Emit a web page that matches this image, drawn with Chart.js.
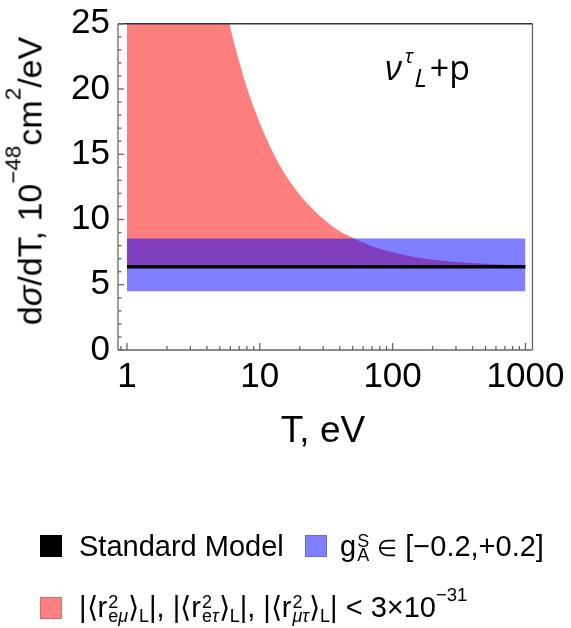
<!DOCTYPE html>
<html>
<head>
<meta charset="utf-8">
<script src="https://cdn.jsdelivr.net/npm/chart.js@4.4.1/dist/chart.umd.min.js"></script>
<style>
  html, body { margin:0; padding:0; background:#fff; }
  #quadro { position:relative; width:571px; height:628px; overflow:hidden;
            font-family:"Liberation Sans", Arial, sans-serif; color:#000; }
  #Grafico { position:absolute; left:0; top:0; }
  .rotulo { position:absolute; white-space:nowrap; }
  #tituloY { left:32px; top:181px; font-size:34px; line-height:40px;
             transform:translate(-50%,-50%) rotate(-90deg); }
  #tituloY .sup { position:relative; font-size:0.66em; top:-21px; }
  #tituloX { left:323px; top:410px; font-size:37px; line-height:40px; transform:translateX(-50%); }
  #reacao { left:385px; top:47px; font-family:"Open Sans", sans-serif; font-size:34px; line-height:40px; }
  #reacao .tau { font-size:20px; font-style:italic; position:relative; top:-17px; margin-left:3px; }
  #reacao .eleL { font-size:26px; font-style:italic; position:relative; top:7px; margin-left:1px; margin-right:3px; }
  .item { position:absolute; font-size:29px; line-height:30px; white-space:nowrap; height:30px; }
  .item .quad { position:absolute; left:0; width:22px; height:22px; box-sizing:border-box; }
  .item .txt { position:absolute; top:0; }
  .ss { position:relative; display:inline-block; font-size:0.62em; margin-left:1px; }
  .ss .a { position:absolute; left:0; top:-9px; }
  .ss .b { position:relative; top:5px; }
  .sub { position:relative; font-size:0.62em; top:5px; }
  .exp { position:relative; font-size:0.64em; top:-16px; }
  .pert { font-size:0.8em; }
</style>
</head>
<body>
<div id="quadro">
  <canvas id="Grafico" width="571" height="628"></canvas>

  <div class="rotulo" id="tituloY">d<i>σ</i>/dT, 10<span class="sup">−48</span>cm<span class="sup">2</span>/eV</div>
  <div class="rotulo" id="tituloX">T, eV</div>
  <div class="rotulo" id="reacao"><i>ν</i><span class="tau">τ</span><span class="eleL">L</span>+p</div>

  <div class="item" style="left:40px;top:531px">
    <span class="quad" style="top:4px;background:#000"></span>
    <span class="txt" style="left:39px">Standard Model</span>
  </div>
  <div class="item" style="left:305px;top:531px">
    <span class="quad" style="top:4px;background:#8080ff;border:1px solid #6a6ae0"></span>
    <span class="txt" style="left:35px">g<span class="ss"><span class="a">S</span><span class="b">A</span></span> <span class="pert">∈</span> [−0.2,+0.2]</span>
  </div>
  <div class="item" style="left:40px;top:592px">
    <span class="quad" style="top:5px;background:#ff8080;border:1px solid #d86a6a"></span>
    <span class="txt" style="left:39px">|⟨r<span class="ss"><span class="a">2</span><span class="b">e<i>μ</i></span></span>⟩<span class="sub">L</span>|, |⟨r<span class="ss"><span class="a">2</span><span class="b">e<i>τ</i></span></span>⟩<span class="sub">L</span>|, |⟨r<span class="ss"><span class="a">2</span><span class="b"><i>μτ</i></span></span>⟩<span class="sub">L</span>| &lt; 3×10<span class="exp">−31</span></span>
  </div>
</div>

<script>
'use strict';
// eixos
const T_EIXO = [1, 10, 100, 1000];
const Y_EIXO = [0, 5, 10, 15, 20, 25];

// faixas constantes em T (de 1 a 1000 eV)
const T_FAIXA = [1, 1000];
const MODELO_PADRAO = [6.38, 6.38];
const GA_SUPERIOR = [8.55, 8.55];
const GA_INFERIOR = [4.5, 4.5];

// limite superior da faixa do raio de carga
const T_RAIO = [1, 1.5, 2, 3, 4, 5, 6, 7, 8, 10, 12.5, 15, 20, 25, 30, 40, 50, 70, 100, 150, 200, 300, 500, 700, 1000];
const RAIO_SUPERIOR = [116.4, 79.7, 61.4, 43, 33.9, 28.4, 24.7, 22.1, 20.1, 17.4, 15.2, 13.7, 11.9, 10.8, 10.05,
                       9.1, 8.6, 7.95, 7.5, 7.1, 6.92, 6.75, 6.6, 6.54, 6.48];

const pares = (xs, ys) => xs.map((x, i) => ({x: x, y: ys[i]}));

// moldura e marcas internas dos eixos
const moldura = {
  id: 'moldura',
  afterDatasetsDraw(chart) {
    const {ctx, chartArea: a, scales: {x, y}} = chart;
    ctx.save();
    ctx.lineWidth = 1.3;
    ctx.strokeStyle = '#666';
    const traco = (x1, y1, x2, y2) => { ctx.beginPath(); ctx.moveTo(x1, y1); ctx.lineTo(x2, y2); ctx.stroke(); };
    traco(a.left, a.top, a.left, a.bottom);
    traco(a.left, a.bottom, a.right, a.bottom);
    traco(a.right, a.top, a.right, a.bottom);
    ctx.strokeStyle = '#333';
    traco(a.left, a.top, a.right, a.top);
    ctx.strokeStyle = '#666';
    for (let v = y.min; v <= y.max; v++) {
      const py = y.getPixelForValue(v);
      traco(a.left, py, a.left + (v % 5 === 0 ? 6 : 3.5), py);
    }
    for (const d of [0.1, 1, 10, 100, 1000]) {
      for (let k = 1; k <= 9; k++) {
        const v = k * d;
        if (v < x.min || v > x.max) continue;
        const px = x.getPixelForValue(v);
        traco(px, a.bottom, px, a.bottom - (k === 1 ? 7 : 4));
      }
    }
    ctx.restore();
  }
};

new Chart(document.getElementById('Grafico'), {
  type: 'line',
  data: {
    datasets: [
      { label: 'Standard Model', data: pares(T_FAIXA, MODELO_PADRAO),
        borderColor: '#000', borderWidth: 3.3, fill: false },
      { label: 'gA', data: pares(T_FAIXA, GA_SUPERIOR),
        borderWidth: 0, backgroundColor: 'rgba(0,0,255,0.5)', fill: '+1' },
      { label: 'gA inf', data: pares(T_FAIXA, GA_INFERIOR),
        borderWidth: 0, fill: false },
      { label: 'raio', data: pares(T_RAIO, RAIO_SUPERIOR),
        borderWidth: 0, backgroundColor: 'rgba(255,0,0,0.5)', fill: 0,
        cubicInterpolationMode: 'monotone' }
    ]
  },
  options: {
    responsive: false,
    animation: false,
    devicePixelRatio: 1,
    layout: { padding: { left: 0, top: 17, right: 38, bottom: 218 } },
    elements: { point: { radius: 0 } },
    plugins: { legend: { display: false }, tooltip: { enabled: false } },
    scales: {
      x: {
        type: 'logarithmic', min: 0.856, max: 1130,
        grid: { display: false, drawTicks: false }, border: { display: false },
        afterBuildTicks: s => { s.ticks = T_EIXO.map(v => ({ value: v })); },
        afterFit: s => { s.height = 60; },
        ticks: { color: '#000', padding: 6, maxRotation: 0, autoSkip: false,
                 font: { family: 'Liberation Sans', size: 35, lineHeight: 1.2 },
                 callback: v => String(v) }
      },
      y: {
        type: 'linear', min: 0, max: 25,
        grid: { display: false, drawTicks: false }, border: { display: false },
        afterBuildTicks: s => { s.ticks = Y_EIXO.map(v => ({ value: v })); },
        afterFit: s => { s.width = 118; },
        ticks: { color: '#000', padding: 8,
                 font: { family: 'Liberation Sans', size: 35, lineHeight: 0.9 } }
      }
    }
  },
  plugins: [moldura]
});
</script>
</body>
</html>
